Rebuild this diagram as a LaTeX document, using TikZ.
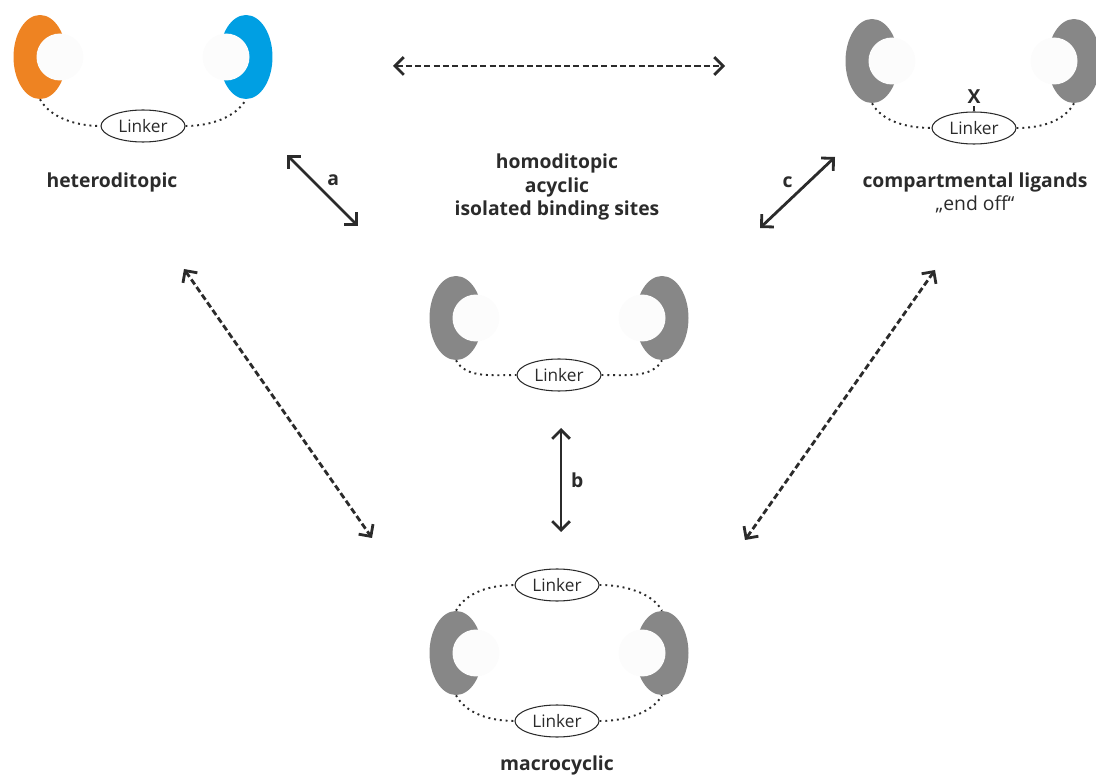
\documentclass[tikz,border=0pt]{standalone}
\usepackage{fontspec}
\setmainfont{Open Sans}
\usetikzlibrary{arrows.meta,shapes.geometric}

\definecolor{siteorange}{HTML}{EE8322}
\definecolor{siteblue}{HTML}{009FE3}
\definecolor{sitegray}{HTML}{878787}
\definecolor{holegray}{HTML}{FCFCFC}
\definecolor{inkgray}{HTML}{2B2B2B}

\newdimen\holeShift
\newdimen\holeRadius
\holeShift=0.4cm
\holeRadius=0.47cm

\begin{document}
\begin{tikzpicture}[
    x=0.02cm, y=-0.02cm,
    site/.style={ellipse,inner sep=0pt,minimum width=1.06cm,minimum height=1.68cm},
    hole/.style={fill=holegray},
    linker/.style={draw=inkgray,ellipse,line width=0.6pt,inner sep=0pt,minimum width=1.68cm,minimum height=0.64cm,text=inkgray,font=\fontsize{9.8}{11}\selectfont},
    link/.style={inkgray,line width=1.1pt,dash pattern=on 1.1pt off 2.2pt},
    title/.style={text=inkgray,align=center,font=\fontsize{11}{13.3}\selectfont\bfseries},
    sub/.style={text=inkgray,font=\fontsize{11}{13.3}\selectfont},
    route/.style={inkgray,line width=1.6pt,{Straight Barb[length=5pt,width=10pt]}-{Straight Barb[length=5pt,width=10pt]}},
    maybe/.style={route,dash pattern=on 3.5pt off 1.8pt},
]
    \useasboundingbox (0,0) rectangle (1096,780);

    \node [site,fill=siteorange] (hetL) at (40,57) {};
    \fill [hole] ([xshift=\holeShift]hetL.center) circle [radius=\holeRadius];
    \node [site,fill=siteblue] (hetR) at (246,57) {};
    \fill [hole] ([xshift=-\holeShift]hetR.center) circle [radius=\holeRadius];
    \node [linker] (lkA) at (143,126) {Linker};
    \draw [link] (hetL.south) .. controls +(10,18) and +(-25,0) .. (lkA.west);
    \draw [link] (lkA.east) .. controls +(25,0) and +(-10,18) .. (hetR.south);
    \node [title] (het) at (112,182) {heteroditopic};

    \node [site,fill=sitegray] (cmpL) at (872,61) {};
    \fill [hole] ([xshift=\holeShift]cmpL.center) circle [radius=\holeRadius];
    \node [site,fill=sitegray] (cmpR) at (1074,61) {};
    \fill [hole] ([xshift=-\holeShift]cmpR.center) circle [radius=\holeRadius];
    \node [linker] (lkC) at (974,128) {Linker};
    \node [title,inner sep=1pt] (x) at (974,97) {X};
    \draw [inkgray,line width=0.6pt] (x.south) -- (lkC.north);
    \draw [link] (cmpL.south) .. controls +(10,18) and +(-25,0) .. (lkC.west);
    \draw [link] (lkC.east) .. controls +(25,0) and +(-10,18) .. (cmpR.south);
    \node [title] (cmp) at (975,182) {compartmental ligands};
    \node [sub] (endoff) at (975,204) {„end off“};

    \node [title] (hom) at (557,187) {homoditopic\\acyclic\\isolated binding sites};
    \node [site,fill=sitegray] (homL) at (456,318) {};
    \fill [hole] ([xshift=\holeShift]homL.center) circle [radius=\holeRadius];
    \node [site,fill=sitegray] (homR) at (662,318) {};
    \fill [hole] ([xshift=-\holeShift]homR.center) circle [radius=\holeRadius];
    \node [linker] (lkB) at (559,375) {Linker};
    \draw [link] (homL.south) .. controls +(10,18) and +(-25,0) .. (lkB.west);
    \draw [link] (lkB.east) .. controls +(25,0) and +(-10,18) .. (homR.south);

    \node [site,fill=sitegray] (macL) at (456,653) {};
    \fill [hole] ([xshift=\holeShift]macL.center) circle [radius=\holeRadius];
    \node [site,fill=sitegray] (macR) at (662,653) {};
    \fill [hole] ([xshift=-\holeShift]macR.center) circle [radius=\holeRadius];
    \node [linker] (lkD) at (557,585) {Linker};
    \node [linker] (lkE) at (557,721) {Linker};
    \draw [link] (macL.north) .. controls +(10,-18) and +(-25,0) .. (lkD.west);
    \draw [link] (lkD.east) .. controls +(25,0) and +(-10,-18) .. (macR.north);
    \draw [link] (macL.south) .. controls +(10,18) and +(-25,0) .. (lkE.west);
    \draw [link] (lkE.east) .. controls +(25,0) and +(-10,18) .. (macR.south);
    \node [title] (mac) at (557,765) {macrocyclic};

    \coordinate (a1) at (287,155);
    \coordinate (a2) at (358,226);
    \coordinate (c1) at (835,157);
    \coordinate (c2) at (760,228);
    \coordinate (b1) at (561,428);
    \coordinate (b2) at (561,532);
    \coordinate (t1) at (393,66);
    \coordinate (t2) at (725,66);
    \coordinate (l1) at (184,269);
    \coordinate (l2) at (372,538);
    \coordinate (r1) at (935,270);
    \coordinate (r2) at (745,540);

    \draw [route] (a1) -- (a2) node [title,midway,above right,inner sep=2pt] {a};
    \draw [route] (c1) -- (c2) node [title,midway,above left,inner sep=2pt] {c};
    \draw [route] (b1) -- (b2) node [title,midway,right,inner sep=5pt] {b};
    \draw [maybe] (t1) -- (t2);
    \draw [maybe] (l1) -- (l2);
    \draw [maybe] (r1) -- (r2);

\end{tikzpicture}
\end{document}
